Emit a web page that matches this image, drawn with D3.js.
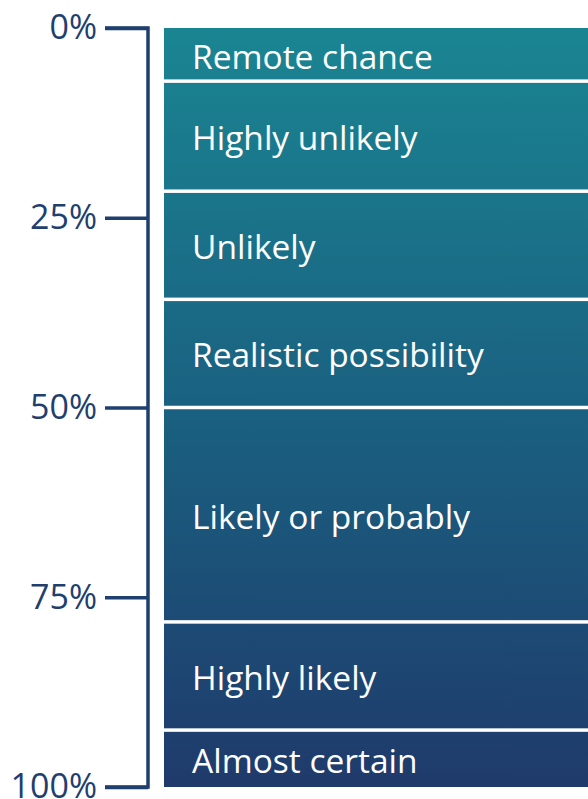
<!DOCTYPE html>
<head>
<meta charset="utf-8">
<style>
body { margin: 0; background: #fff; }
svg { display: block; }
text { font-family: "Open Sans", sans-serif; }
</style>
</head>
<body>
<script src="https://d3js.org/d3.v7.min.js"></script>
<script>
(function() {
	// probability bands (percent)
	var labels = ["Remote chance", "Highly unlikely", "Unlikely", "Realistic possibility",
		"Likely or probably", "Highly likely", "Almost certain"];
	var bandStart = [0, 7, 21.5, 35.75, 50, 78.25, 92.5];
	var bandEnd = [7, 21.5, 35.75, 50, 78.25, 92.5, 100];
	var tickValues = [0, 25, 50, 75, 100];

	var W = 588, H = 799,
		axisX = 148,
		boxX = 164,
		gap = 3.5,
		navy = "#1f3f6f";

	var y = d3.scaleLinear().domain([0, 100]).range([28, 787]);

	var svg = d3.select("body").append("svg")
		.attr("width", W)
		.attr("height", H);

	var grad = svg.append("defs").append("linearGradient")
		.attr("id", "fade")
		.attr("gradientUnits", "userSpaceOnUse")
		.attr("x1", 0).attr("y1", y(0))
		.attr("x2", 0).attr("y2", y(100));
	grad.append("stop").attr("offset", 0).attr("stop-color", "#1a8592");
	grad.append("stop").attr("offset", 0.5).attr("stop-color", "#1a6181");
	grad.append("stop").attr("offset", 1).attr("stop-color", "#1f3a6b");

	var bands = labels.map(function(l, i) {
		return { label: l, start: bandStart[i], end: bandEnd[i] };
	});

	svg.selectAll("rect.band")
		.data(bands)
		.join("rect")
		.attr("class", "band")
		.attr("x", boxX)
		.attr("width", W - boxX)
		.attr("y", function(d) { return y(d.start) + (d.start > 0 ? gap / 2 : 0); })
		.attr("height", function(d) {
			return y(d.end) - y(d.start) - (d.start > 0 ? gap / 2 : 0) - (d.end < 100 ? gap / 2 : 0);
		})
		.attr("fill", "url(#fade)");

	svg.selectAll("text.band")
		.data(bands)
		.join("text")
		.attr("class", "band")
		.attr("x", 192)
		.attr("y", function(d) { return (y(d.start) + y(d.end)) / 2; })
		.attr("dy", "0.42em")
		.attr("fill", "#fff")
		.attr("font-size", 33.5)
		.text(function(d) { return d.label; });

	// bracket axis
	var axis = d3.axisLeft(y)
		.tickValues(tickValues)
		.tickSize(axisX - 105)
		.tickPadding(8)
		.tickFormat(function(d) { return d + "%"; });

	var g = svg.append("g")
		.attr("transform", "translate(" + axisX + ",0)")
		.call(axis);
	g.select(".domain")
		.attr("d", "M" + (105 - axisX) + "," + y(0) + "H0V" + y(100) + "H" + (105 - axisX))
		.attr("stroke", navy)
		.attr("stroke-width", 3.5)
		.attr("fill", "none");
	g.selectAll(".tick line").attr("stroke", navy).attr("stroke-width", 3.5);
	g.selectAll(".tick text")
		.attr("fill", navy)
		.attr("font-size", 34)
		.attr("font-family", "'Open Sans', sans-serif");
})();
</script>
</body>
